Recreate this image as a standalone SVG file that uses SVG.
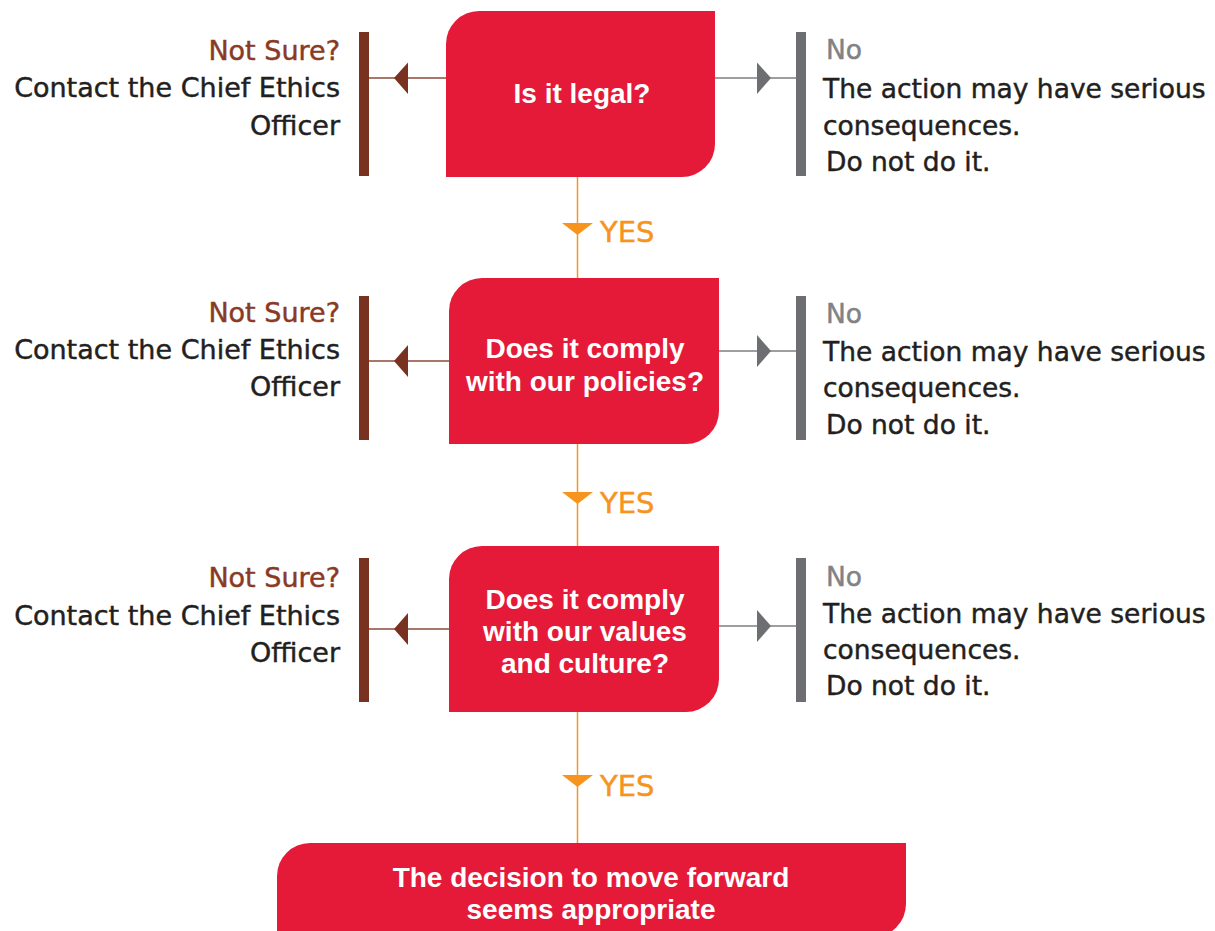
<svg xmlns="http://www.w3.org/2000/svg" width="1215" height="931" viewBox="0 0 1215 931">
<style>
.box{fill:#E51A38}
.bt{font-family:"Liberation Sans",Arial,sans-serif;font-weight:bold;font-size:28px;fill:#FFFFFF;text-anchor:middle}
.st{font-family:"DejaVu Sans","Liberation Sans",sans-serif;font-size:27px;fill:#231F20;stroke:#231F20;stroke-width:0.45}
.rt{font-family:"DejaVu Sans","Liberation Sans",sans-serif;font-size:26.5px;fill:#231F20;stroke:#231F20;stroke-width:0.45}
.ns{fill:#8A3A24;stroke:#8A3A24}
.no{fill:#808285;stroke:#808285}
.lbar{fill:#7A3220}
.rbar{fill:#6D6E71}
.lline{stroke:#8B4A38;stroke-width:1.5;fill:none}
.rline{stroke:#7D7E81;stroke-width:1.5;fill:none}
.lhead{fill:#7A3220}
.rhead{fill:#6D6E71}
.vline{stroke:#F7941D;stroke-width:1.5;fill:none}
.yhead{fill:#F7941D}
.yes{font-family:"DejaVu Sans","Liberation Sans",sans-serif;font-size:29px;fill:#F7941D;stroke:#F7941D;stroke-width:0.45}
</style>
<rect width="1215" height="931" fill="#FFFFFF"/>
<g id="connectors">
<line class="vline" x1="577.5" y1="177" x2="577.5" y2="278"/>
<line class="vline" x1="577.5" y1="444" x2="577.5" y2="546"/>
<line class="vline" x1="577.5" y1="712" x2="577.5" y2="843"/>
<polygon class="yhead" points="562,223 593,223 577.5,235"/>
<polygon class="yhead" points="562,492 593,492 577.5,504"/>
<polygon class="yhead" points="562,775 593,775 577.5,787"/>
<text class="yes" x="600" y="242">YES</text>
<text class="yes" x="600" y="513">YES</text>
<text class="yes" x="600" y="796">YES</text>
<line class="lline" x1="369" y1="78" x2="446" y2="78"/>
<polygon class="lhead" points="394,78 408,62.5 408,94"/>
<line class="rline" x1="715" y1="78" x2="796" y2="78"/>
<polygon class="rhead" points="771,78 757,62.5 757,94"/>
<line class="lline" x1="369" y1="361" x2="449" y2="361"/>
<polygon class="lhead" points="394,361 408,345 408,377"/>
<line class="rline" x1="719" y1="351" x2="796" y2="351"/>
<polygon class="rhead" points="771,351 757,335 757,367"/>
<line class="lline" x1="369" y1="629" x2="449" y2="629"/>
<polygon class="lhead" points="394,629 408,613 408,645"/>
<line class="rline" x1="719" y1="626" x2="796" y2="626"/>
<polygon class="rhead" points="771,626 757,610 757,642"/>
</g>
<g id="q1">
<path class="box" d="M446,44 A33,33 0 0 1 479,11 L715,11 L715,144 A33,33 0 0 1 682,177 L446,177 Z"/>
<text class="bt" x="582" y="103">Is it legal?</text>
</g>
<g id="q2">
<path class="box" d="M449,311 A33,33 0 0 1 482,278 L719,278 L719,411 A33,33 0 0 1 686,444 L449,444 Z"/>
<text class="bt" x="585" y="358">Does it comply</text>
<text class="bt" x="585" y="391">with our policies?</text>
</g>
<g id="q3">
<path class="box" d="M449,579 A33,33 0 0 1 482,546 L719,546 L719,679 A33,33 0 0 1 686,712 L449,712 Z"/>
<text class="bt" x="585" y="609">Does it comply</text>
<text class="bt" x="585" y="641">with our values</text>
<text class="bt" x="585" y="673">and culture?</text>
</g>
<g id="result">
<path class="box" d="M277,876 A33,33 0 0 1 310,843 L906,843 L906,904 A33,33 0 0 1 873,937 L277,937 Z"/>
<text class="bt" x="591" y="887">The decision to move forward</text>
<text class="bt" x="591" y="919">seems appropriate</text>
</g>
<g id="notsure1">
<rect class="lbar" x="359" y="32" width="10" height="144"/>
<text class="st ns" x="340" y="60" text-anchor="end">Not Sure?</text>
<text class="st" x="340" y="97" text-anchor="end">Contact the Chief Ethics</text>
<text class="st" x="340" y="135" text-anchor="end">Officer</text>
</g>
<g id="notsure2">
<rect class="lbar" x="359" y="296" width="10" height="144"/>
<text class="st ns" x="340" y="322" text-anchor="end">Not Sure?</text>
<text class="st" x="340" y="359" text-anchor="end">Contact the Chief Ethics</text>
<text class="st" x="340" y="396" text-anchor="end">Officer</text>
</g>
<g id="notsure3">
<rect class="lbar" x="359" y="558" width="10" height="144"/>
<text class="st ns" x="340" y="587" text-anchor="end">Not Sure?</text>
<text class="st" x="340" y="625" text-anchor="end">Contact the Chief Ethics</text>
<text class="st" x="340" y="662" text-anchor="end">Officer</text>
</g>
<g id="no1">
<rect class="rbar" x="796" y="32" width="10" height="144"/>
<text class="rt no" x="826" y="59">No</text>
<text class="rt" x="823" y="98">The action may have serious</text>
<text class="rt" x="823" y="135">consequences.</text>
<text class="rt" x="826" y="171">Do not do it.</text>
</g>
<g id="no2">
<rect class="rbar" x="796" y="296" width="10" height="144"/>
<text class="rt no" x="826" y="323">No</text>
<text class="rt" x="823" y="361">The action may have serious</text>
<text class="rt" x="823" y="397">consequences.</text>
<text class="rt" x="826" y="434">Do not do it.</text>
</g>
<g id="no3">
<rect class="rbar" x="796" y="558" width="10" height="144"/>
<text class="rt no" x="826" y="586">No</text>
<text class="rt" x="823" y="623">The action may have serious</text>
<text class="rt" x="823" y="659">consequences.</text>
<text class="rt" x="826" y="695">Do not do it.</text>
</g>
</svg>
